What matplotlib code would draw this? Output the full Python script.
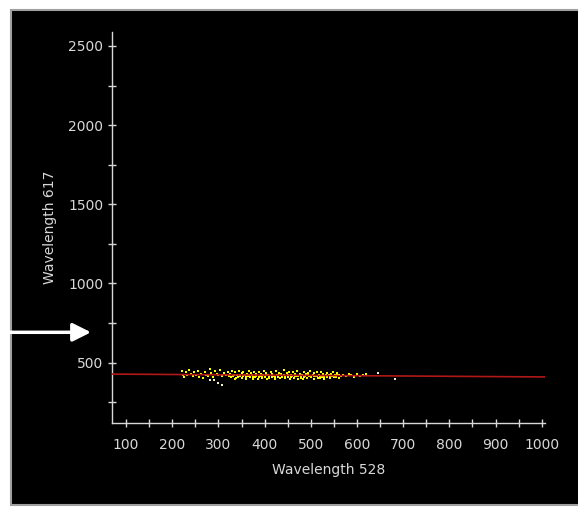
import matplotlib
matplotlib.use("Agg")
import matplotlib.pyplot as plt
from matplotlib.patches import Rectangle

# scatter points (Wavelength 528, Wavelength 617)
pts_x = [222, 224, 226, 229, 232, 236, 240, 244, 247, 251, 255, 258, 262, 266, 270,
         274, 277, 281, 285, 288, 292, 296, 300, 304, 308, 312, 316, 320, 323,
         326, 328, 330, 333, 335, 337, 340, 342, 344, 347, 350, 352, 354, 357, 359,
         361, 364, 366, 368, 371, 373, 375, 378, 380, 382, 385, 387, 389, 392, 394,
         396, 399, 401, 403, 406, 408, 410, 413, 415, 417, 420, 422, 424, 427, 429,
         431, 434, 436, 438, 441, 443, 445, 448, 450, 452, 455, 457, 459, 462, 464,
         466, 469, 471, 473, 476, 478, 480, 483, 485, 487, 490, 492, 494, 497, 499,
         501, 504, 506, 508, 511, 513, 515, 518, 520, 522, 525, 527, 529, 532, 534,
         536, 539, 541, 543, 546, 548, 550, 553, 555, 557, 560, 562, 565,
         332, 339, 346, 353, 360, 367, 374, 381, 388, 395, 402, 409, 416, 423, 430,
         437, 444, 451, 458, 465, 472, 479, 486, 493, 500, 507, 514, 521, 528, 535,
         542, 549, 556,
         570, 576, 582, 588, 594, 600, 607, 614, 619]
pts_y = [445, 425, 410, 440, 420, 455, 430, 415, 438, 422, 448, 412, 430, 405, 440,
         425, 418, 460, 432, 410, 445, 428, 420, 452, 415, 435, 425, 442, 418,
         430, 412, 445, 420, 400, 438, 425, 410, 450, 418, 432, 405, 440, 422, 398,
         428, 415, 445, 408, 432, 420, 400, 438, 412, 428, 395, 442, 418, 430, 405,
         422, 450, 412, 435, 400, 425, 415, 440, 408, 430, 418, 398, 445, 422, 410,
         435, 402, 428, 415, 455, 420, 405, 432, 412, 440, 398, 425, 415, 438, 405,
         428, 418, 445, 400, 430, 412, 422, 395, 440, 415, 428, 405, 435, 418, 448,
         410, 425, 400, 432, 415, 438, 405, 422, 412, 442, 408, 428, 398, 420, 435,
         410, 425, 402, 430, 415, 440, 408, 422, 412, 432, 405, 420, 415,
         418, 405, 425, 415, 410, 420, 412, 418, 408, 415, 420, 405, 418, 412, 420,
         408, 415, 420, 408, 414, 418, 406, 412, 420, 408, 415, 418, 406, 412, 418,
         410, 415, 420,
         425, 415, 430, 420, 410, 428, 418, 422, 430]

# pale outlying points
out_x = [282, 291, 299, 307, 645, 682]
out_y = [388, 388, 372, 359, 437, 400]

# fitted line end points
fit_x = [70, 1007]
fit_y = [428, 410]

xticks = [100, 200, 300, 400, 500, 600, 700, 800, 900, 1000]
yticks = [500, 1000, 1500, 2000, 2500]

fg = '#d8d8d8'

fig = plt.figure(figsize=(5.78, 5.12), dpi=100)
fig.patch.set_facecolor('white')
fig.patches.append(Rectangle((11 / 578, 7 / 512), 570 / 578, 495 / 512,
                             transform=fig.transFigure, facecolor='black',
                             edgecolor='#a0a0a0', linewidth=1.5, zorder=-5))

ax = fig.add_axes([112.3 / 578, 89.3 / 512, 432.7 / 578, 390.7 / 512])
ax.set_facecolor('black')
ax.scatter(pts_x, pts_y, s=4.5, marker='s', color='#ffff00', linewidths=0, zorder=2)
ax.scatter(out_x, out_y, s=4.5, marker='s', color='#f0f0c8', linewidths=0, zorder=2)
ax.plot(fit_x, fit_y, color='#b01818', linewidth=1.2, zorder=3)

ax.set_xlim(70.3, 1007)
ax.set_ylim(121, 2588)
ax.set_xticks(xticks)
ax.set_xticks([150, 250, 350, 450, 550, 650, 750, 850, 950], minor=True)
ax.set_yticks(yticks)
ax.set_yticks([250, 750, 1250, 1750, 2250], minor=True)

for s in ['top', 'right']:
    ax.spines[s].set_visible(False)
for s in ['left', 'bottom']:
    ax.spines[s].set_color(fg)
    ax.spines[s].set_linewidth(1)

ax.tick_params(which='both', direction='inout', length=6, width=1, color=fg,
               labelcolor=fg, labelsize=10)
ax.tick_params(axis='x', pad=8)
ax.tick_params(axis='y', pad=3.5)

ax.set_xlabel('Wavelength 528', color=fg, fontsize=10, labelpad=8)
ax.set_ylabel('Wavelength 617', color=fg, fontsize=10, labelpad=8)

# white arrow on the left
ax.annotate('', xy=(91, 179.7), xycoords='figure pixels',
            xytext=(0, 179.7), textcoords='figure pixels',
            arrowprops=dict(arrowstyle='-|>,head_length=1.1,head_width=0.55',
                            color='white', linewidth=2.5, shrinkA=0, shrinkB=0),
            annotation_clip=False)

plt.savefig('out.png', dpi=100, facecolor='white')
